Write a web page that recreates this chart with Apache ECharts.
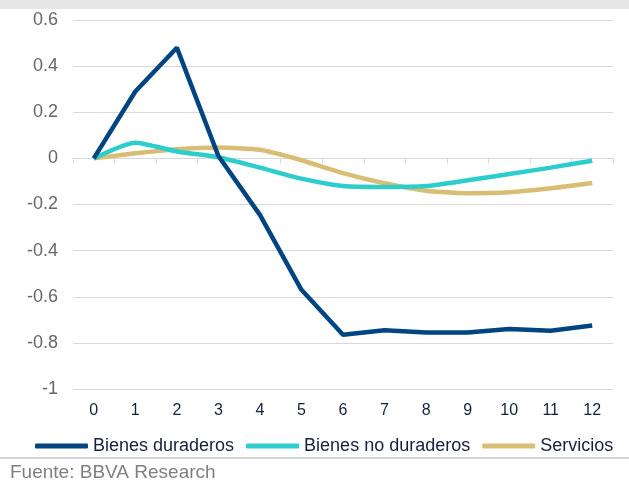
<!DOCTYPE html>
<html><head><meta charset="utf-8">
<script src="https://cdn.jsdelivr.net/npm/echarts@6/dist/echarts.min.js"></script>
<style>html,body{margin:0;padding:0;background:#fff}#c{width:629px;height:481px}</style>
</head><body><div id="c"></div>
<script>
const categories = ['0','1','2','3','4','5','6','7','8','9','10','11','12'];
const durables = [0, 0.29, 0.48, 0.01, -0.245, -0.57, -0.765, -0.745, -0.755, -0.755, -0.74, -0.747, -0.725];
const nonDurables = [0, 0.068, 0.03, 0.005, -0.04, -0.088, -0.12, -0.124, -0.12, -0.095, -0.068, -0.04, -0.01];
const services = [0, 0.022, 0.04, 0.047, 0.037, -0.008, -0.064, -0.108, -0.14, -0.151, -0.147, -0.13, -0.107];
const seriesNames = ['Bienes duraderos', 'Bienes no duraderos', 'Servicios'];
const colors = ['#004481', '#2dcccd', '#d8be75'];
const yMin = -1, yMax = 0.6, yStep = 0.2;

const chart = echarts.init(document.getElementById('c'), null, {renderer: 'canvas'});
const FONT = 'Liberation Sans, Arial, sans-serif';
const TXT = '#14213d';
chart.setOption({
  animation: false,
  textStyle: {fontFamily: FONT},
  color: colors,
  grid: {left: 73, right: 16, top: 20, bottom: 92, containLabel: false},
  legend: {
    data: seriesNames.map(n => ({name: n, icon: 'roundRect'})),
    left: 35, top: 437, itemWidth: 53, itemHeight: 5, itemGap: 12, padding: 0,
    textStyle: {fontSize: 18, color: TXT, fontFamily: FONT}
  },
  xAxis: [{
    type: 'category', data: categories, boundaryGap: true,
    axisLine: {onZero: true, lineStyle: {color: '#d9d9d9', width: 1}},
    axisTick: {show: true, length: 5, lineStyle: {color: '#d9d9d9'}},
    axisLabel: {show: false}, splitLine: {show: false}
  }, {
    type: 'category', data: categories, boundaryGap: true, position: 'bottom',
    axisLine: {show: false, onZero: false}, axisTick: {show: false},
    axisLabel: {show: true, fontSize: 16, color: TXT, margin: 14, fontFamily: FONT}
  }],
  yAxis: {
    type: 'value', min: yMin, max: yMax, interval: yStep,
    axisLine: {show: false}, axisTick: {show: false},
    axisLabel: {fontSize: 18, color: '#666666', margin: 15, fontFamily: FONT,
      formatter: v => { const r = Math.round(v * 10) / 10; return r === 0 ? '0' : String(r); }},
    splitLine: {lineStyle: {color: '#d9d9d9', width: 1}}
  },
  series: [
    {name: seriesNames[0], type: 'line', data: durables, symbol: 'none', lineStyle: {width: 4.5, color: colors[0]}, z: 3},
    {name: seriesNames[1], type: 'line', data: nonDurables, symbol: 'none', smooth: 0.2, lineStyle: {width: 4.5, color: colors[1]}, z: 2},
    {name: seriesNames[2], type: 'line', data: services, symbol: 'none', smooth: 0.2, lineStyle: {width: 4.5, color: colors[2]}, z: 1}
  ],
  graphic: [
    {type: 'rect', left: 0, top: 0, shape: {width: 629, height: 9}, style: {fill: '#e6e6e6'}, silent: true},
    {type: 'rect', left: 0, top: 457, shape: {width: 629, height: 2}, style: {fill: '#d4d4d4'}, silent: true},
    {type: 'text', left: 10, top: 463, style: {text: 'Fuente: BBVA Research', fontSize: 19, fill: '#7f7f7f', fontFamily: FONT}}
  ]
});
</script></body></html>
